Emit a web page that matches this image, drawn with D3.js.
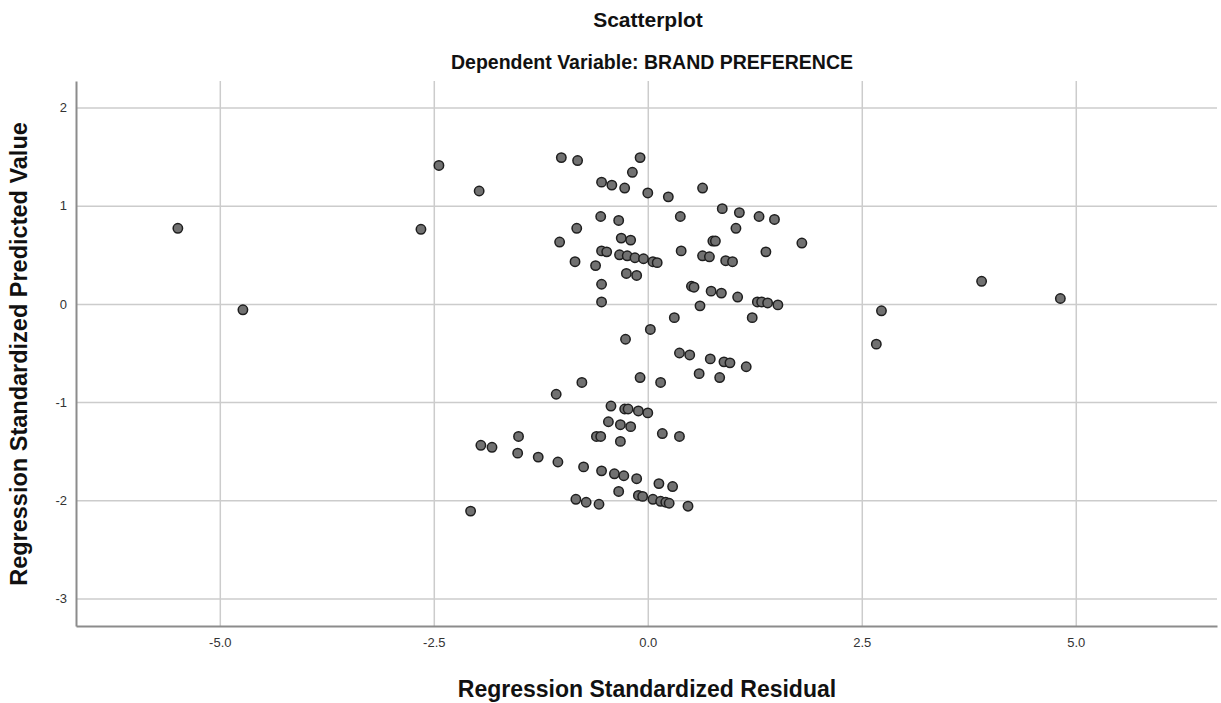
<!DOCTYPE html>
<html>
<head>
<meta charset="utf-8">
<script src="https://cdn.jsdelivr.net/npm/d3@7"></script>
<style>
  body { margin: 0; background: #fff; }
  svg text { font-family: "Liberation Sans", Arial, sans-serif; }
</style>
</head>
<body>
<svg id="chart" width="1221" height="703"></svg>
<script>
// residual (x) and predicted value (y) for each case
var residual = [
  -5.49, -4.73, -2.65, -2.44, -1.97, -1.01, -0.82, 4.82, 3.90, 2.73, 2.67,
  -0.09, -0.18, -0.54, -0.42, -0.27, 0.00, 0.24, 0.64, 0.87, 1.07, 1.30, 1.48,
  -0.55, -0.34, 0.38, 1.03, -0.83, -1.03, -0.31, -0.20, 0.76, 0.79, 1.80,
  -0.54, -0.48, -0.33, -0.24, -0.15, -0.05, 0.06, 0.11, 0.39, 0.64, 0.72, 0.91, 0.99, 1.38,
  -0.85, -0.61, -0.25, -0.13, -0.54, -0.54, 0.51, 0.54, 0.74, 0.86, 1.05, 1.28, 1.33, 1.40, 1.52, 0.61, 1.22, 0.31, 0.03, -0.26,
  0.37, 0.49, 0.73, 0.89, 0.96, 1.15, 0.60, 0.84, -0.09, 0.15, -0.77, -1.07, -0.43, -0.27, -0.23, -0.11, 0.00, -0.46, -0.32, -0.20, 0.17, 0.37, -0.60, -0.55, -0.32,
  -1.51, -1.95, -1.82, -1.52, -1.28, -1.05, -0.75, -0.54, -0.39, -0.28, -0.13, 0.13, 0.29, -0.34, -0.11, -0.06, 0.06, 0.15, 0.21, 0.25, 0.47, -0.84, -0.72, -0.57, -2.07
];
var predicted = [
  0.77, -0.06, 0.76, 1.41, 1.15, 1.49, 1.46, 0.055, 0.23, -0.07, -0.41,
  1.49, 1.34, 1.24, 1.21, 1.18, 1.13, 1.09, 1.18, 0.97, 0.93, 0.89, 0.86,
  0.89, 0.85, 0.89, 0.77, 0.77, 0.63, 0.67, 0.65, 0.64, 0.64, 0.62,
  0.54, 0.53, 0.50, 0.49, 0.47, 0.46, 0.43, 0.42, 0.54, 0.49, 0.48, 0.44, 0.43, 0.53,
  0.43, 0.39, 0.31, 0.29, 0.20, 0.02, 0.18, 0.17, 0.13, 0.11, 0.07, 0.02, 0.02, 0.01, -0.01, -0.02, -0.14, -0.14, -0.26, -0.36,
  -0.50, -0.52, -0.56, -0.59, -0.60, -0.64, -0.71, -0.75, -0.75, -0.80, -0.80, -0.92, -1.04, -1.07, -1.07, -1.09, -1.11, -1.20, -1.23, -1.25, -1.32, -1.35, -1.35, -1.35, -1.40,
  -1.35, -1.44, -1.46, -1.52, -1.56, -1.61, -1.66, -1.70, -1.73, -1.75, -1.78, -1.83, -1.86, -1.91, -1.95, -1.96, -1.99, -2.01, -2.02, -2.03, -2.06, -1.99, -2.02, -2.04, -2.11
];

var xTicks = [-5, -2.5, 0, 2.5, 5];
var yTicks = [-3, -2, -1, 0, 1, 2];

var title = "Scatterplot";
var subtitle = "Dependent Variable: BRAND PREFERENCE";
var xTitle = "Regression Standardized Residual";
var yTitle = "Regression Standardized Predicted Value";

var svg = d3.select("#chart");
// plot area edges
var pLeft = 76, pRight = 1217, pTop = 81, pBottom = 626;

var x = d3.scaleLinear().domain([-6.68, 6.65]).range([pLeft, pRight]);
var y = d3.scaleLinear().domain([-3.28, 2.27]).range([pBottom, pTop]);

// plain hyphen instead of d3's unicode minus
var fmtX = (d) => d3.format(".1f")(d).replace("\u2212", "-");
var fmtY = (d) => d3.format("d")(d).replace("\u2212", "-");

// gridlines
svg.append("g")
  .attr("transform", "translate(0," + pBottom + ")")
  .call(d3.axisBottom(x).tickValues(xTicks).tickSize(-(pBottom - pTop)).tickFormat(""))
  .call(g => g.select(".domain").remove())
  .call(g => g.selectAll("line").attr("stroke", "#cccccc").attr("stroke-width", 1.5));

svg.append("g")
  .attr("transform", "translate(" + pLeft + ",0)")
  .call(d3.axisLeft(y).tickValues(yTicks).tickSize(-(pRight - pLeft)).tickFormat(""))
  .call(g => g.select(".domain").remove())
  .call(g => g.selectAll("line").attr("stroke", "#cccccc").attr("stroke-width", 1.5));

// axis lines and labels
var xAxis = svg.append("g")
  .attr("transform", "translate(0," + pBottom + ")")
  .call(d3.axisBottom(x).tickValues(xTicks).tickSize(0).tickPadding(12).tickFormat(fmtX));
xAxis.select(".domain").attr("stroke", "#8c8c8c").attr("stroke-width", 2);
xAxis.selectAll("text").attr("font-size", 13).attr("fill", "#333");

var yAxis = svg.append("g")
  .attr("transform", "translate(" + pLeft + ",0)")
  .call(d3.axisLeft(y).tickValues(yTicks).tickSize(0).tickPadding(9).tickFormat(fmtY));
yAxis.select(".domain").attr("stroke", "#8c8c8c").attr("stroke-width", 2);
yAxis.selectAll("text").attr("font-size", 13).attr("fill", "#333");

// points
svg.append("g")
  .selectAll("circle")
  .data(residual)
  .join("circle")
  .attr("cx", (d) => x(d))
  .attr("cy", (d, i) => y(predicted[i]))
  .attr("r", 4.7)
  .attr("fill", "#717171")
  .attr("stroke", "#1e1e1e")
  .attr("stroke-width", 1.5);

// titles
svg.append("text").attr("x", 648).attr("y", 27).attr("text-anchor", "middle")
  .attr("font-size", 21).attr("font-weight", "bold").attr("fill", "#111").text(title);
svg.append("text").attr("x", 652).attr("y", 69).attr("text-anchor", "middle")
  .attr("font-size", 19.5).attr("font-weight", "bold").attr("fill", "#111").text(subtitle);
svg.append("text").attr("x", 647).attr("y", 697).attr("text-anchor", "middle")
  .attr("font-size", 23).attr("font-weight", "bold").attr("fill", "#111").text(xTitle);
svg.append("text").attr("transform", "translate(27,354) rotate(-90)").attr("text-anchor", "middle")
  .attr("font-size", 23.5).attr("font-weight", "bold").attr("fill", "#111").text(yTitle);
</script>
</body>
</html>
